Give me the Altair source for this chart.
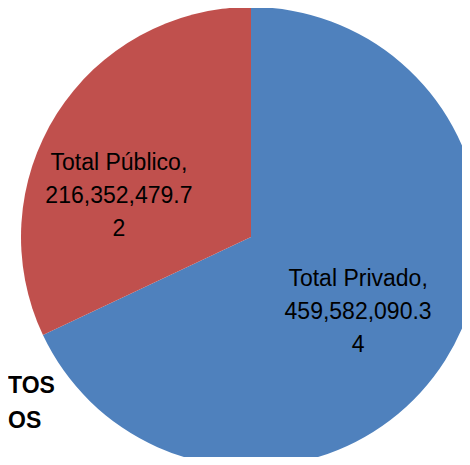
import altair as alt
import pandas as pd

categories = ["Total Privado", "Total Público"]
values = [459582090.34, 216352479.72]
colors = ["#4F81BD", "#C0504D"]
title_lines = ["TOS", "OS"]

def wrap_label(name, v):
    s = f"{v:,.2f}"
    return f"{name},\n{s[:13]}\n{s[13:]}"

df = pd.DataFrame({
    "category": categories,
    "value": values,
    "order": list(range(len(categories))),
    "label": [wrap_label(c, v) for c, v in zip(categories, values)],
})

CX, CY, R = 243, 229, 230

arcs = alt.Chart(df).mark_arc(outerRadius=R).encode(
    theta=alt.Theta("value:Q", stack=True),
    order=alt.Order("order:Q"),
    x=alt.value(CX),
    y=alt.value(CY),
    color=alt.Color("category:N",
                    scale=alt.Scale(domain=categories, range=colors),
                    legend=None),
)

font = "Liberation Sans"

def label_layer(cat, dx, dy):
    return alt.Chart(df).transform_joinaggregate(
        total="sum(value)"
    ).transform_window(
        cum="sum(value)", sort=[alt.SortField("order")]
    ).transform_calculate(
        mid="(datum.cum - datum.value / 2) / datum.total"
    ).transform_filter(
        alt.datum.category == cat
    ).mark_text(
        radius=128, fontSize=23, font=font, lineBreak="\n", lineHeight=33,
        align="center", baseline="middle", color="black", dx=dx, dy=dy
    ).encode(
        theta=alt.Theta("mid:Q", scale=alt.Scale(domain=[0, 1]), stack=None),
        x=alt.value(CX),
        y=alt.value(CY),
        text="label:N",
    )

txt_priv = label_layer(categories[0], -1, -27)
txt_pub = label_layer(categories[1], -24, -5)

title1 = alt.Chart(pd.DataFrame({"t": [title_lines[0]]})).mark_text(
    fontSize=23, font=font, fontWeight="bold", align="left",
    baseline="alphabetic", color="black"
).encode(text="t:N", x=alt.value(0), y=alt.value(385))

title2 = alt.Chart(pd.DataFrame({"t": [title_lines[1]]})).mark_text(
    fontSize=23, font=font, fontWeight="bold", align="left",
    baseline="alphabetic", color="black"
).encode(text="t:N", x=alt.value(0), y=alt.value(420))

chart = alt.layer(arcs, txt_priv, txt_pub, title1, title2).resolve_scale(
    theta="independent"
).properties(
    width=454, height=449, padding=0,
    autosize=alt.AutoSizeParams(type="none"),
    background="white",
).configure_view(stroke=None)

chart.save("out.html", embed_options={"renderer": "svg", "actions": False})
